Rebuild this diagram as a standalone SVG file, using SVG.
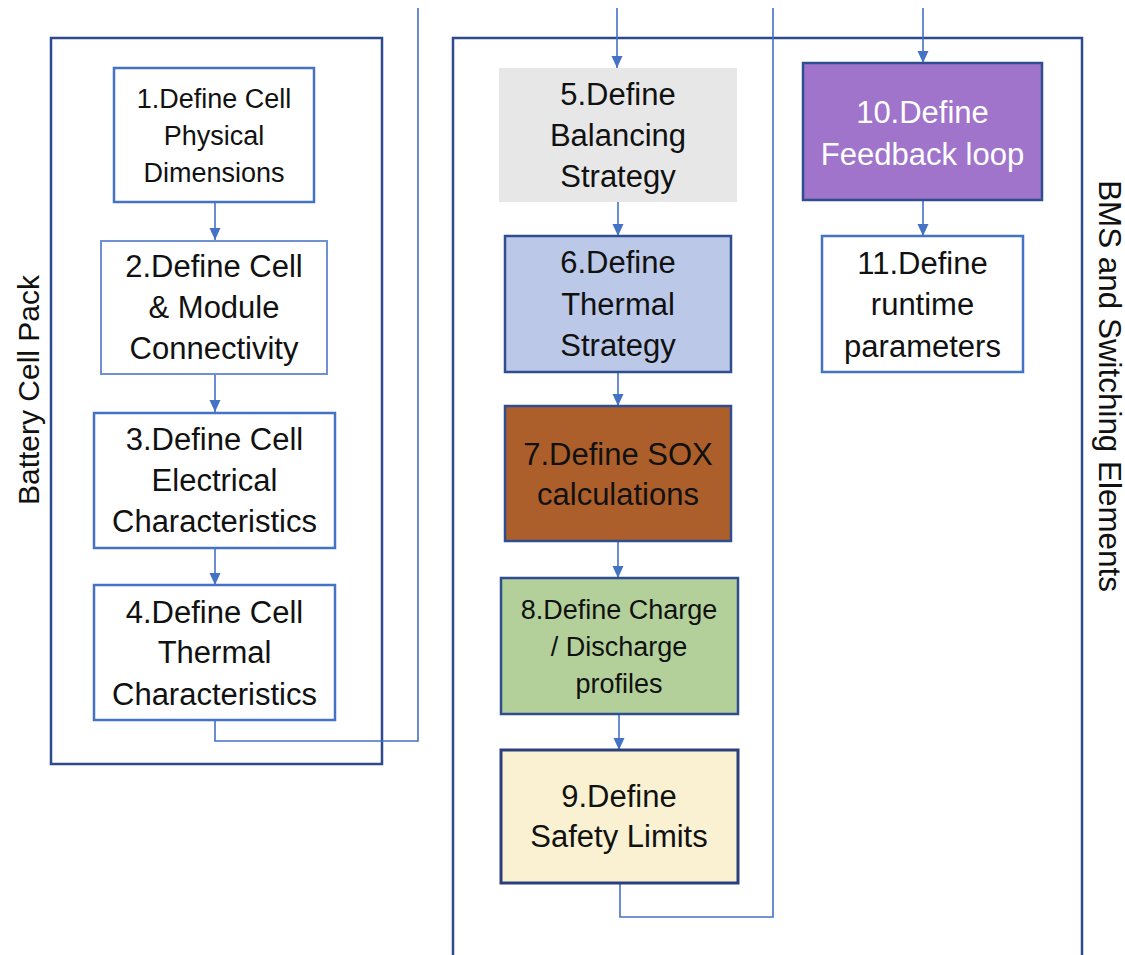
<svg xmlns="http://www.w3.org/2000/svg" width="1125" height="955" viewBox="0 0 1125 955">
<style>
text{font-family:"Liberation Sans",Arial,sans-serif;fill:#111;text-anchor:middle}
.big{font-size:31px}
.sm{font-size:27px}
.lbl{font-size:30px}
.lbl2{font-size:31.4px}
.cont{fill:none;stroke:#2E4A8E;stroke-width:2.5}
.conn{fill:none;stroke:#4472C4;stroke-width:1.6}
.b1{fill:#fff;stroke:#4472C4;stroke-width:2.5}
.b2{fill:#fff;stroke:#6F90D2;stroke-width:2}
.dk{stroke:#2F4E90;stroke-width:2.5}
</style>
<defs>
<marker id="ah" markerUnits="userSpaceOnUse" markerWidth="12" markerHeight="12" viewBox="0 0 12 12" refX="12" refY="6" orient="auto">
<path d="M0,0.5 L12,6 L0,11.5 Z" fill="#4472C4"/>
</marker>
</defs>
<rect width="1125" height="955" fill="#fff"/>
<g id="containers">
<rect class="cont" x="51" y="38" width="331" height="726"/>
<rect class="cont" x="453" y="38" width="629" height="940"/>
<text class="lbl" transform="translate(39,390) rotate(-90)">Battery Cell Pack</text>
<text class="lbl2" transform="translate(1099,386) rotate(90)">BMS and Switching Elements</text>
</g>
<g id="connectors">
<path class="conn" d="M215,202 V240" marker-end="url(#ah)"/>
<path class="conn" d="M215,374 V412" marker-end="url(#ah)"/>
<path class="conn" d="M215,548 V585" marker-end="url(#ah)"/>
<path class="conn" d="M215,720 V741 H418 V8"/>
<path class="conn" d="M617,8 V68" marker-end="url(#ah)"/>
<path class="conn" d="M618,202 V236" marker-end="url(#ah)"/>
<path class="conn" d="M618,372 V406" marker-end="url(#ah)"/>
<path class="conn" d="M618,541 V578" marker-end="url(#ah)"/>
<path class="conn" d="M619,714 V750" marker-end="url(#ah)"/>
<path class="conn" d="M620,883 V917 H773 V8"/>
<path class="conn" d="M923,8 V63" marker-end="url(#ah)"/>
<path class="conn" d="M923,200 V236" marker-end="url(#ah)"/>
</g>
<g id="n1">
<rect class="b1" x="114" y="68" width="200" height="134"/>
<text class="sm" x="214" y="108">1.Define Cell</text>
<text class="sm" x="214" y="145">Physical</text>
<text class="sm" x="214" y="182">Dimensions</text>
</g>
<g id="n2">
<rect class="b2" x="101" y="241" width="226" height="133"/>
<text class="big" x="214" y="277">2.Define Cell</text>
<text class="big" x="214" y="318">&amp; Module</text>
<text class="big" x="214" y="359">Connectivity</text>
</g>
<g id="n3">
<rect class="b1" x="94" y="413" width="241" height="135"/>
<text class="big" x="214.5" y="450">3.Define Cell</text>
<text class="big" x="214.5" y="491">Electrical</text>
<text class="big" x="214.5" y="532">Characteristics</text>
</g>
<g id="n4">
<rect class="b1" x="94" y="585" width="241" height="135"/>
<text class="big" x="214.5" y="623">4.Define Cell</text>
<text class="big" x="214.5" y="663">Thermal</text>
<text class="big" x="214.5" y="705">Characteristics</text>
</g>
<g id="n5">
<rect x="499" y="68" width="238" height="134" fill="#E7E7E7"/>
<text class="big" x="618" y="105">5.Define</text>
<text class="big" x="618" y="146">Balancing</text>
<text class="big" x="618" y="187">Strategy</text>
</g>
<g id="n6">
<rect class="dk" x="505" y="236" width="226" height="136" fill="#BBC8E7"/>
<text class="big" x="618" y="273">6.Define</text>
<text class="big" x="618" y="315">Thermal</text>
<text class="big" x="618" y="356">Strategy</text>
</g>
<g id="n7">
<rect class="dk" x="505" y="406" width="226" height="135" fill="#AD5F2B"/>
<text class="big" x="618" y="465">7.Define SOX</text>
<text class="big" x="618" y="505">calculations</text>
</g>
<g id="n8">
<rect class="dk" x="501" y="578" width="237" height="136" fill="#B3D09B"/>
<text class="sm" x="619" y="619">8.Define Charge</text>
<text class="sm" x="619" y="656">/ Discharge</text>
<text class="sm" x="619" y="693">profiles</text>
</g>
<g id="n9">
<rect x="501" y="750" width="237" height="133" fill="#FAF1D2" stroke="#2B3F7C" stroke-width="3"/>
<text class="big" x="619" y="807">9.Define</text>
<text class="big" x="619" y="847">Safety Limits</text>
</g>
<g id="n10">
<rect class="dk" x="803" y="63" width="239" height="137" fill="#A074CB"/>
<text class="big" x="922.5" y="123" style="fill:#fff">10.Define</text>
<text class="big" x="922.5" y="165" style="fill:#fff">Feedback loop</text>
</g>
<g id="n11">
<rect class="b1" x="822" y="236" width="201" height="136"/>
<text class="big" x="922.5" y="274">11.Define</text>
<text class="big" x="922.5" y="315">runtime</text>
<text class="big" x="922.5" y="357">parameters</text>
</g>
</svg>
